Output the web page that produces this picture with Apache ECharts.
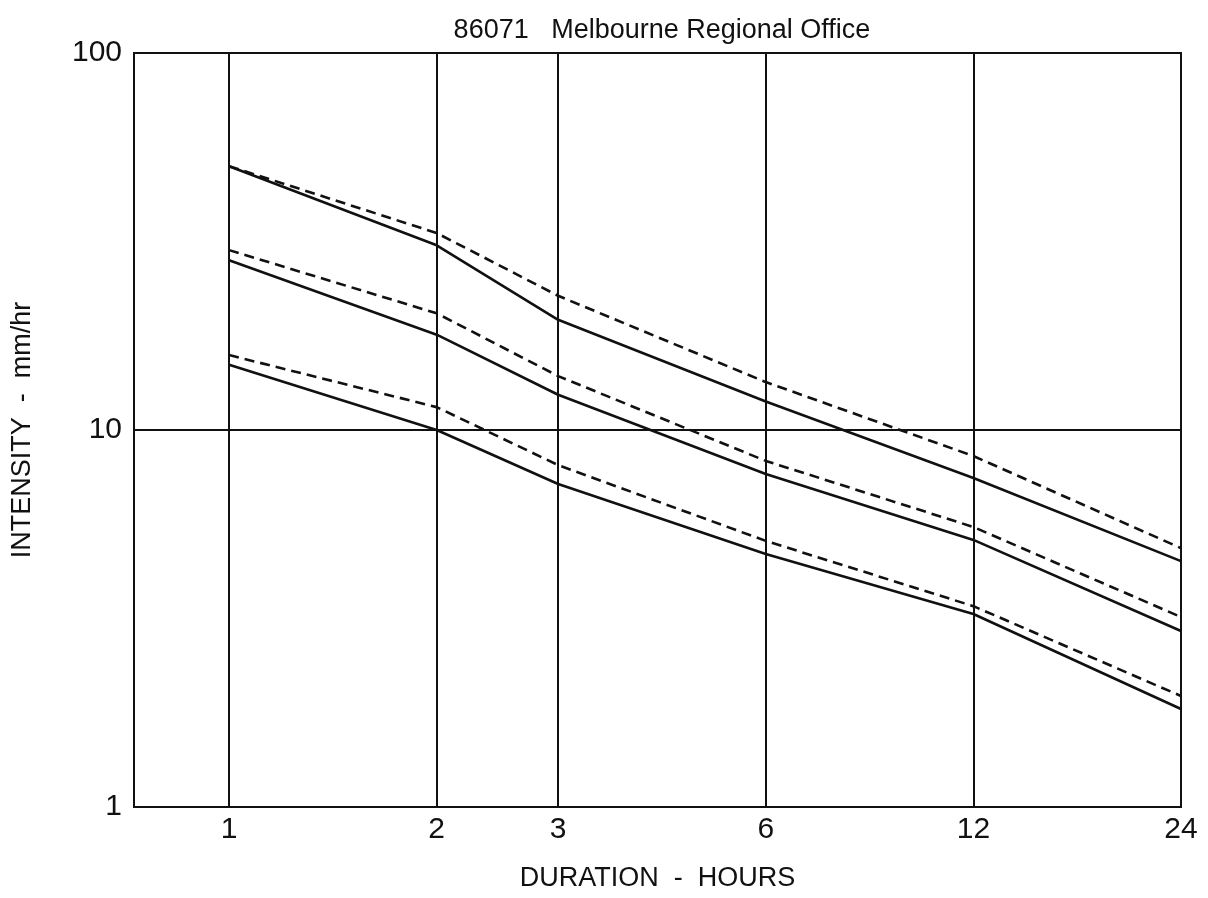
<!DOCTYPE html>
<html>
<head>
<meta charset="utf-8">
<script src="https://cdn.jsdelivr.net/npm/echarts@6/dist/echarts.min.js"></script>
<style>html,body{margin:0;padding:0;background:#fff}#c{width:1208px;height:898px}</style>
</head>
<body>
<div id="c"></div>
<script>
const durations = [1, 2, 3, 6, 12, 24];
const xTicks = [1, 2, 3, 6, 12, 24];
const solidHigh = [50.1, 30.9, 19.6, 11.9, 7.46, 4.49];
const dashHigh  = [50.1, 33.3, 22.7, 13.4, 8.53, 4.86];
const solidMid  = [28.2, 17.9, 12.4, 7.64, 5.11, 2.93];
const dashMid   = [30.0, 20.4, 13.9, 8.28, 5.53, 3.19];
const solidLow  = [14.9, 10.0, 7.19, 4.69, 3.25, 1.82];
const dashLow   = [15.8, 11.5, 8.07, 5.08, 3.41, 1.97];

const font = '"Liberation Sans", Arial, sans-serif';
const narrow = '"Liberation Sans Narrow", "Arial Narrow", "Liberation Sans", sans-serif';
function pts(vals){ return durations.map((d,i)=>[d, vals[i]]); }
function line(name, vals, dashed){
  return {
    name, type:'line', data: pts(vals), showSymbol:false, symbol:'none', silent:true,
    lineStyle:{color:'#111', width:2.6, type: dashed ? [10,6] : 'solid'},
    z: 5
  };
}
const chart = echarts.init(document.getElementById('c'));
chart.setOption({
  animation:false,
  backgroundColor:'#fff',
  title:{text:'86071   Melbourne Regional Office', left:657, textAlign:'center', top:12,
    textStyle:{fontFamily:font, fontSize:27, fontWeight:'normal', color:'#111'}},
  grid:{left:134, right:27, top:53, bottom:91, show:true, borderColor:'#111', borderWidth:2, backgroundColor:'transparent'},
  xAxis:{type:'log', min:0.728, max:24, logBase:10,
    name:'DURATION  -  HOURS', nameLocation:'middle', nameGap:58,
    nameTextStyle:{fontFamily:font, fontSize:27, color:'#111'},
    axisLine:{show:false}, axisTick:{show:false}, splitLine:{show:false},
    axisLabel:{customValues:xTicks, fontFamily:narrow, fontSize:30, color:'#111', margin:8, formatter: v=>String(Math.round(v))}
  },
  yAxis:{type:'log', min:1, max:100, logBase:10,
    name:'INTENSITY  -  mm/hr', nameLocation:'middle', nameGap:98, nameRotate:90,
    nameTextStyle:{fontFamily:font, fontSize:27, color:'#111'},
    axisLine:{show:false}, axisTick:{show:false},
    splitLine:{show:true, lineStyle:{color:'#111', width:2}},
    axisLabel:{fontFamily:narrow, fontSize:30, color:'#111', margin:12}
  },
  series:[
    {type:'line', data:[], silent:true,
      markLine:{silent:true, symbol:['none','none'], label:{show:false},
        lineStyle:{color:'#111', width:2, type:'solid'},
        data: xTicks.map(v=>({xAxis:v}))}},
    line('solidHigh', solidHigh, false),
    line('dashHigh', dashHigh, true),
    line('solidMid', solidMid, false),
    line('dashMid', dashMid, true),
    line('solidLow', solidLow, false),
    line('dashLow', dashLow, true)
  ]
});
</script>
</body>
</html>
